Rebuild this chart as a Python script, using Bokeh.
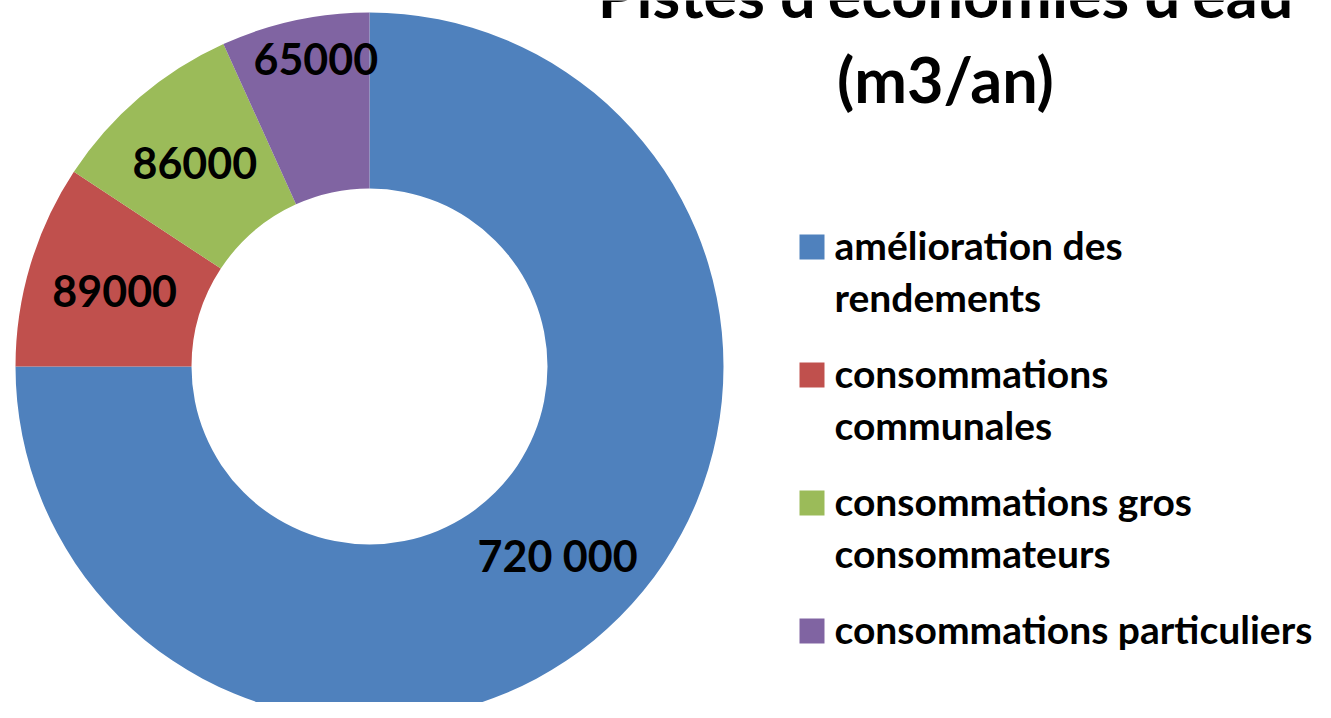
import math
from bokeh.plotting import figure
from bokeh.models import Range1d, ColumnDataSource
from bokeh.core.properties import value
from bokeh.embed import file_html
from bokeh.resources import INLINE

# ---- data ----
categories = ["amélioration des rendements", "consommations communales",
              "consommations gros consommateurs", "consommations particuliers"]
legend_labels = ["amélioration des\nrendements", "consommations\ncommunales",
                 "consommations gros\nconsommateurs", "consommations particuliers"]
values = [720000, 89000, 86000, 65000]
value_labels = ["720 000", "89000", "86000", "65000"]
colors = ["#4F81BD", "#C0504D", "#9BBB59", "#8064A2"]
title_lines = ["Pistes d'économies d'eau", "(m3/an)"]

FONT = value("Lato")

# ---- layout (pixels == data units) ----
W, H = 1315, 702
p = figure(width=W, height=H, output_backend="svg", toolbar_location=None,
           x_range=Range1d(-369, W - 369), y_range=Range1d(366 - H, 366),
           min_border=0)
p.axis.visible = False
p.grid.visible = False
p.outline_line_color = None
p.background_fill_color = "white"
p.border_fill_color = "white"

R_OUT, R_IN = 354, 178
total = float(sum(values))
starts, ends, mids = [], [], []
a = math.pi / 2
for v in values:
    span = 2 * math.pi * v / total
    starts.append(a)
    ends.append(a - span)
    mids.append(a - span / 2)
    a -= span

src = ColumnDataSource(dict(start=starts, end=ends, color=colors, cat=categories))
p.annular_wedge(x=0, y=0, inner_radius=R_IN, outer_radius=R_OUT,
                start_angle="start", end_angle="end", direction="clock",
                fill_color="color", line_color=None, source=src)

# value labels
label_r = [266, 266, 269, 316]
label_dx = [0, 0, 0, 13]
lx = [r * math.cos(m) + dx for r, m, dx in zip(label_r, mids, label_dx)]
ly = [r * math.sin(m) for r, m in zip(label_r, mids)]
p.text(x=lx, y=ly, text=value_labels, text_font=FONT, text_font_style="bold",
       text_font_size="43px", text_color="black", text_align="center",
       text_baseline="alphabetic", y_offset=1)

# title
p.text(x=[576, 576], y=[373, 288], text=title_lines, text_font=FONT,
       text_font_style="bold", text_font_size="63px", text_color="black",
       text_align="center", text_baseline="alphabetic")

# legend
SQ = 25
base0, step, line_step = 107, -128, -52
FS = 39
shift = 0.375 * FS
sq_x, sq_y, tx, ty, tt = [], [], [], [], []
for i, lab in enumerate(legend_labels):
    b = base0 + i * step
    sq_x.append(430 + SQ / 2)
    sq_y.append(b + SQ / 2)
    for j, line in enumerate(lab.split("\n")):
        tx.append(465)
        ty.append(b + j * line_step + shift)
        tt.append(line)
p.rect(x=sq_x, y=sq_y, width=SQ, height=SQ, fill_color=colors, line_color=None)
p.text(x=tx, y=ty, text=tt, text_font=FONT, text_font_style="bold",
       text_font_size=f"{FS}px", text_color="black", text_align="left",
       text_baseline="alphabetic")

open("out.html", "w").write(file_html(p, INLINE))
